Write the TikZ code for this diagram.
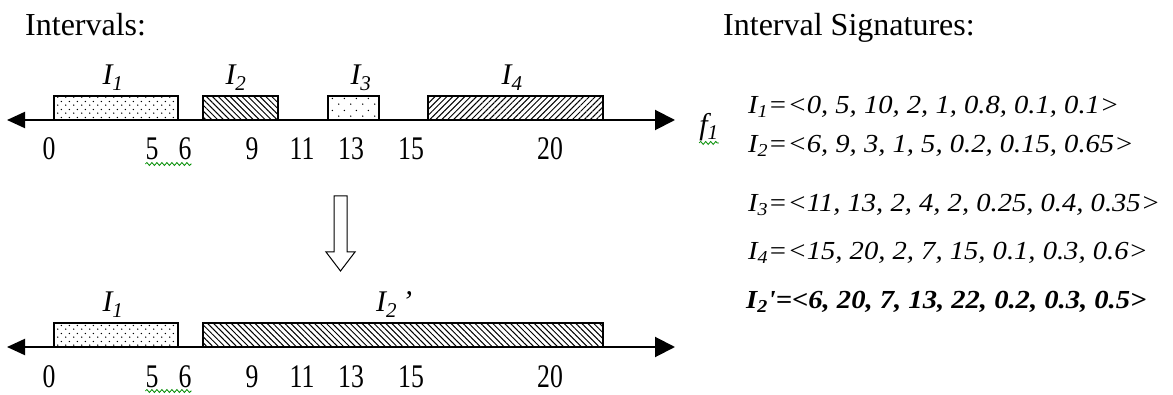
\documentclass[tikz,border=0pt]{standalone}
\usepackage{fontspec}
\setmainfont{Liberation Serif}
\newfontfamily\numfont[FakeStretch=0.78]{Liberation Serif}
\newfontfamily\sigfont[FakeStretch=1.1]{Liberation Serif}
\usetikzlibrary{arrows.meta,patterns,patterns.meta,decorations.pathmorphing}
\tikzdeclarepattern{
  name=densedots, type=uncolored,
  bounding box={(0pt,0pt) and (8pt,8pt)},
  tile size={(8pt,8pt)},
  code={\fill (2pt,2pt) circle (0.8pt); \fill (6pt,6pt) circle (0.8pt);}
}
\tikzdeclarepattern{
  name=sparsedots, type=uncolored,
  bounding box={(0pt,0pt) and (12pt,12pt)},
  tile size={(12pt,12pt)},
  code={\fill (3pt,3pt) circle (0.8pt); \fill (9pt,9pt) circle (0.8pt);}
}
\begin{document}
\begin{tikzpicture}[x=1pt,y=-1pt,
  title/.style={font=\fontsize{32}{36}\selectfont, inner sep=0, anchor=base west},
  num/.style={font=\numfont\fontsize{33}{36}\selectfont, inner sep=0, anchor=base},
  lab/.style={font=\itshape\fontsize{30}{32}\selectfont, inner sep=0, anchor=base},
  sig/.style={font=\sigfont\itshape\fontsize{26}{30}\selectfont, inner sep=0, anchor=base west},
  box/.style={draw, line width=1.5pt, inner sep=0, outer sep=0, anchor=south west, minimum height=24pt},
  axis/.style={line width=2pt},
  squiggle/.style={draw=green!55!black, line width=0.8pt, decorate, decoration={snake, amplitude=1.5pt, segment length=5pt}},
  bigarrow/.style={draw, line width=1pt, fill=white}
]
\useasboundingbox (0,0) rectangle (1173,395);

% titles
\node[title] (t1) at (25,36) {Intervals:};
\node[title] (t2) at (723,36) {Interval Signatures:};

% ---------- top axis ----------
\coordinate (aL) at (7,120);
\coordinate (aR) at (675,120);
\draw[axis, {Triangle[length=18pt,width=16pt]}-{Triangle[length=20pt,width=20pt]}] (aL) -- (aR);

\node[box, pattern=densedots, minimum width=124pt] (b1) at (54,120) {};
\node[box, pattern={Lines[angle=-45,distance=4.2pt,line width=1pt]}, minimum width=75pt] (b2) at (203,120) {};
\node[box, pattern=sparsedots, minimum width=51pt] (b3) at (328,120) {};
\node[box, pattern={Lines[angle=45,distance=4.2pt,line width=1pt]}, minimum width=175pt] (b4) at (428,120) {};

\node[lab] (l1) at (113,85) {I\textsubscript{1}};
\node[lab] (l2) at (236,85) {I\textsubscript{2}};
\node[lab] (l3) at (361,85) {I\textsubscript{3}};
\node[lab] (l4) at (512,85) {I\textsubscript{4}};

\node[num] (n0) at (49,160) {0};
\node[num] (n5) at (152,160) {5};
\node[num] (n6) at (185,160) {6};
\node[num] (n9) at (252,160) {9};
\node[num] (n11) at (302,160) {11};
\node[num] (n13) at (351,160) {13};
\node[num] (n15) at (411,160) {15};
\node[num] (n20) at (550,160) {20};
\draw[squiggle] ([yshift=-4pt]n5.base west) -- ([yshift=-4pt]n6.base east);

\node[lab, anchor=center] (f1) at (709,127) {f\textsubscript{1}};
\draw[squiggle] ([yshift=-2pt]f1.south west) -- ([yshift=-2pt]f1.south east);

% ---------- down arrow ----------
\draw[bigarrow] (334,196) -- (347,196) -- (347,252) -- (355,252) -- (340.5,271) -- (326,252) -- (334,252) -- cycle;

% ---------- bottom axis ----------
\coordinate (cL) at (7,347);
\coordinate (cR) at (675,347);
\draw[axis, {Triangle[length=18pt,width=16pt]}-{Triangle[length=20pt,width=20pt]}] (cL) -- (cR);

\node[box, pattern=densedots, minimum width=124pt] (d1) at (54,347) {};
\node[box, pattern={Lines[angle=-45,distance=4.2pt,line width=1pt]}, minimum width=400pt] (d2) at (203,347) {};

\node[lab] (m1) at (113,312) {I\textsubscript{1}};
\node[lab] (m2) at (394,312) {I\textsubscript{2}\,'};

\node[num] (p0) at (49,387) {0};
\node[num] (p5) at (152,387) {5};
\node[num] (p6) at (185,387) {6};
\node[num] (p9) at (252,387) {9};
\node[num] (p11) at (302,387) {11};
\node[num] (p13) at (351,387) {13};
\node[num] (p15) at (411,387) {15};
\node[num] (p20) at (550,387) {20};
\draw[squiggle] ([yshift=-4pt]p5.base west) -- ([yshift=-4pt]p6.base east);

% ---------- signatures ----------
\node[sig] (s1) at (748,114) {I\textsubscript{1}=<0, 5, 10, 2, 1, 0.8, 0.1, 0.1>};
\node[sig] (s2) at (748,153) {I\textsubscript{2}=<6, 9, 3, 1, 5, 0.2, 0.15, 0.65>};
\node[sig] (s3) at (748,212) {I\textsubscript{3}=<11, 13, 2, 4, 2, 0.25, 0.4, 0.35>};
\node[sig] (s4) at (748,260) {I\textsubscript{4}=<15, 20, 2, 7, 15, 0.1, 0.3, 0.6>};
\node[sig, font=\sigfont\bfseries\itshape\fontsize{26}{30}\selectfont] (s5) at (746,309) {I\textsubscript{2}'=<6, 20, 7, 13, 22, 0.2, 0.3, 0.5>};
\end{tikzpicture}
\end{document}
